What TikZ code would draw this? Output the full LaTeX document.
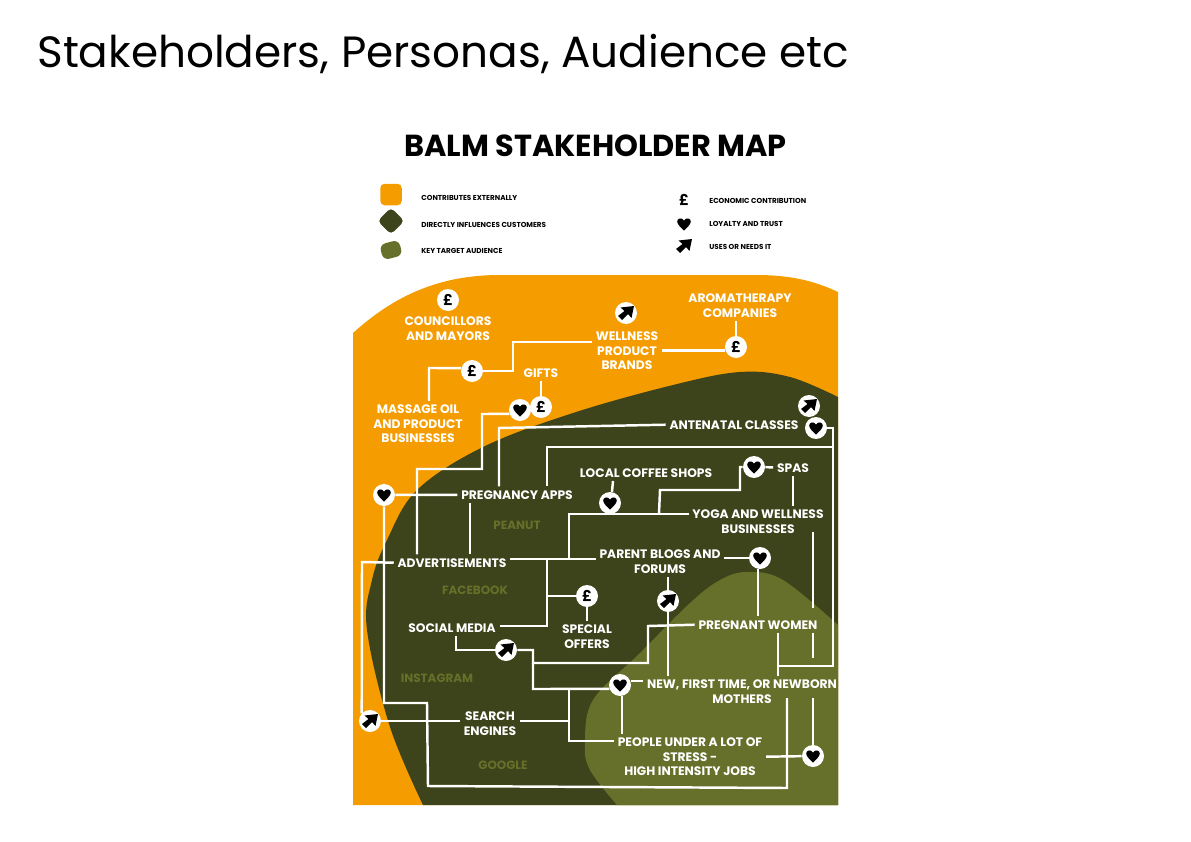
\documentclass[tikz,border=0pt]{standalone}
\usepackage{fontspec}
\setmainfont{Poppins}
\usetikzlibrary{shapes.geometric}
\definecolor{balmorange}{HTML}{F59D00}
\definecolor{balmdark}{HTML}{3D431B}
\definecolor{balmolive}{HTML}{66702A}
\tikzset{
    link/.style={white, line width=1.4pt, line join=miter},
    maplabel/.style={white, align=center, inner sep=2pt, yshift=-0.4pt, font=\fontsize{7}{8.3}\selectfont\bfseries},
    tagtext/.style={balmolive, inner sep=0pt, font=\fontsize{6.8}{8.3}\selectfont\bfseries},
    keytext/.style={black, anchor=west, inner sep=0pt, yshift=-0.4pt, font=\fontsize{4.1}{5}\selectfont\bfseries},
    iconbox/.style={circle, fill=white, minimum size=0.44cm, inner sep=0pt, font=\fontsize{8.5}{8.5}\selectfont\bfseries},
    heartmark/.pic={\fill[black] (0,6.5) .. controls (-3,3.5) and (-6.8,0.5) .. (-6.8,-2.5) .. controls (-6.8,-6) and (-2,-6.8) .. (0,-3.5) .. controls (2,-6.8) and (6.8,-6) .. (6.8,-2.5) .. controls (6.8,0.5) and (3,3.5) .. (0,6.5) -- cycle;},
    arrowmark/.pic={\fill[black] (8,-7) -- (-5.5,-5.5) -- (-1.5,-2) -- (-8,3) -- (-4,7) -- (2,1) -- (5.5,5) -- cycle;}
}
\begin{document}
\begin{tikzpicture}[x=0.02cm, y=-0.02cm]
    \useasboundingbox (0,0) rectangle (1191,842);
    % headings
    \node[anchor=west, inner sep=0pt, font=\fontsize{24.9}{30}\selectfont] (pagetitle) at (37,54) {Stakeholders, Personas, Audience etc};
    \node[inner sep=0pt, font=\fontsize{17.3}{20}\selectfont\bfseries] (maptitle) at (595.5,146) {BALM STAKEHOLDER MAP};
    % legend
    \node[fill=balmorange, rounded corners=2.5pt, minimum size=0.43cm, inner sep=0pt] (keyorange) at (391,194.5) {};
    \node[fill=balmdark, rounded corners=2.5pt, rotate=45, minimum size=0.38cm, inner sep=0pt] (keydark) at (391,221) {};
    \node[fill=balmolive, rounded corners=3.5pt, rotate=15, minimum width=0.40cm, minimum height=0.32cm, inner sep=0pt] (keyolive) at (391,250) {};
    \node[keytext] (keyone) at (421,197) {CONTRIBUTES EXTERNALLY};
    \node[keytext] (keytwo) at (421,224) {DIRECTLY INFLUENCES CUSTOMERS};
    \node[keytext] (keythree) at (421,250) {KEY TARGET AUDIENCE};
    \node[keytext] (keyfour) at (709,200) {ECONOMIC CONTRIBUTION};
    \node[keytext] (keyfive) at (709,223) {LOYALTY AND TRUST};
    \node[keytext] (keysix) at (709,246) {USES OR NEEDS IT};
    \node[inner sep=0pt, font=\fontsize{8.5}{8.5}\selectfont\bfseries] (keypound) at (684,200) {£};
    \coordinate (keyheart) at (684,224);
    \coordinate (keyarrow) at (684,246);
    \pic at (keyheart) {heartmark};
    \pic at (keyarrow) {arrowmark};
    % regions
    \fill[balmorange] (353,333) .. controls (395,295) and (440,275) .. (500,275) -- (757,275) .. controls (790,275) and (815,281) .. (838,292) -- (838,805) -- (353,805) -- cycle;
    \fill[balmdark] plot[smooth, tension=0.6] coordinates {(423,805) (390,727) (367,630) (372,580) (387,540) (417,490) (483,447) (573,413) (673,385) (740,372) (790,377) (838,397)} -- (838,805) -- cycle;
    \fill[balmolive] plot[smooth, tension=0.6] coordinates {(617,805) (590,770) (585,743) (593,700) (640,653) (690,603) (720,580) (747,572) (783,580) (838,625)} -- (838,805) -- cycle;
    \node[tagtext] (peanut) at (517,525) {PEANUT};
    \node[tagtext] (facebook) at (475,590) {FACEBOOK};
    \node[tagtext] (instagram) at (437,678) {INSTAGRAM};
    \node[tagtext] (google) at (503,765) {GOOGLE};
    % stakeholders
    \node[maplabel] (councillors) at (448,328) {COUNCILLORS\\AND MAYORS};
    \node[maplabel] (wellness) at (627,350) {WELLNESS\\PRODUCT\\BRANDS};
    \node[maplabel] (aroma) at (740,305) {AROMATHERAPY\\COMPANIES};
    \node[maplabel] (massage) at (418,423) {MASSAGE OIL\\AND PRODUCT\\BUSINESSES};
    \node[maplabel] (gifts) at (541,372) {GIFTS};
    \node[maplabel] (antenatal) at (734,424) {ANTENATAL CLASSES};
    \node[maplabel] (apps) at (517,494) {PREGNANCY APPS};
    \node[maplabel] (coffee) at (646,472) {LOCAL COFFEE SHOPS};
    \node[maplabel] (spas) at (793,467) {SPAS};
    \node[maplabel] (yoga) at (758,521) {YOGA AND WELLNESS\\BUSINESSES};
    \node[maplabel] (ads) at (452,562) {ADVERTISEMENTS};
    \node[maplabel] (blogs) at (660,561) {PARENT BLOGS AND\\FORUMS};
    \node[maplabel] (offers) at (587,636) {SPECIAL\\OFFERS};
    \node[maplabel] (social) at (452,627) {SOCIAL MEDIA};
    \node[maplabel] (pregnant) at (758,624) {PREGNANT WOMEN};
    \node[maplabel] (mothers) at (742,691) {NEW, FIRST TIME, OR NEWBORN\\MOTHERS};
    \node[maplabel] (search) at (490,723) {SEARCH\\ENGINES};
    \node[maplabel] (stress) at (690,756) {PEOPLE UNDER A LOT OF\\STRESS -\\HIGH INTENSITY JOBS};
    % icons
    \node[iconbox] (pCouncil) at (448,300) {£};
    \node[iconbox] (pMassage) at (472,371) {£};
    \node[iconbox] (pAroma) at (736,347) {£};
    \node[iconbox] (pGifts) at (541,407) {£};
    \node[iconbox] (pOffers) at (587,596) {£};
    \node[iconbox] (hAds) at (520,410) {};
    \node[iconbox] (hAntenatal) at (816,428) {};
    \node[iconbox] (hApps) at (384,495) {};
    \node[iconbox] (hCoffee) at (610,503) {};
    \node[iconbox] (hSpas) at (754,467) {};
    \node[iconbox] (hBlogs) at (760,558) {};
    \node[iconbox] (hMothers) at (620,685) {};
    \node[iconbox] (hStress) at (813,756) {};
    \node[iconbox] (aWellness) at (626,313) {};
    \node[iconbox] (aAntenatal) at (809,406) {};
    \node[iconbox] (aBlogs) at (668,601) {};
    \node[iconbox] (aSocial) at (506,650) {};
    \node[iconbox] (aSearch) at (370,721) {};
    \foreach \n in {hAds,hAntenatal,hApps,hCoffee,hSpas,hBlogs,hMothers,hStress}
        \pic at (\n) {heartmark};
    \foreach \n in {aWellness,aAntenatal,aBlogs,aSocial,aSearch}
        \pic at (\n) {arrowmark};
    % free ends
    \coordinate (motherJoin) at (778,666);
    \coordinate (mothersFoot) at (787,698);
    \coordinate (mothersHand) at (813,698);
    \coordinate (yogaFoot) at (813,532);
    \coordinate (pregnantTop) at (813,608);
    \coordinate (pregnantFoot) at (813,658);
    \coordinate (blogsJoin) at (569,559);
    \coordinate (offersJoin) at (547,559);
    % connectors
    \draw[link] (massage.north -| 429,0) -- (429,368) -- (pMassage.165);
    \draw[link] (pMassage.east) -- (513,371) -- (513,342) -- (wellness.west |- 0,342);
    \draw[link] (wellness.east) -- (wellness.east -| pAroma.west);
    \draw[link] (pAroma) -- (pAroma |- aroma.south);
    \draw[link] (gifts) -- (pGifts);
    \draw[link] (hAds.200) -- (482,414) -- (482,469) -- (417,469) -- (ads.north -| 417,0);
    \draw[link] (antenatal.west) -- (499,428) -- (apps.north -| 499,0);
    \draw[link] (hAntenatal) -- (833,428) -- (833,666) -- (motherJoin);
    \draw[link] (pregnant.south -| 778,0) -- (mothers.north -| 778,0);
    \draw[link] (apps.north -| 547,0) -- (547,447) -- (833,447);
    \draw[link] (hApps) -- (apps);
    \draw[link] (hApps.south) -- (384,703) -- (427,703) -- (428,786) -- (787,788) -- (mothersFoot);
    \draw[link] (apps.south -| 470,0) -- (ads.north -| 470,0);
    \draw[link] (ads.west) -- (362,562) -- (aSearch.137);
    \draw[link] (aSearch) -- (search.west |- aSearch);
    \draw[link] (ads.east |- 0,559) -- (blogs.west |- 0,559);
    \draw[link] (blogsJoin) -- (569,514) -- (yoga.west |- 0,514);
    \draw[link] (coffee.south -| 613,0) -- (hCoffee.80);
    \draw[link] (659,514) -- (660,490) -- (740,490) -- (740,467) -- (hSpas);
    \draw[link] (hSpas) -- (spas);
    \draw[link] (spas) -- (spas |- yoga.north);
    \draw[link] (yogaFoot) -- (pregnantTop);
    \draw[link] (pregnant.south -| pregnantFoot) -- (pregnantFoot);
    \draw[link] (blogs.east |- 0,558) -- (hBlogs);
    \draw[link] (hBlogs.south -| pregnant) -- (pregnant.north);
    \draw[link] (offersJoin) -- (547,626) -- (social.east |- 0,626);
    \draw[link] (547,596) -- (pOffers);
    \draw[link] (pOffers) -- (offers.north -| pOffers);
    \draw[link] (blogs.south -| aBlogs) -- (aBlogs);
    \draw[link] (aBlogs) -- (mothers.north -| aBlogs);
    \draw[link] (pregnant.west) -- (648,626) -- (648,663) -- (533,663) -- (533,650) -- (aSocial);
    \draw[link] (social.south -| 456,0) -- (456,650) -- (aSocial);
    \draw[link] (533,663) -- (533,689) -- (hMothers.200);
    \draw[link] (569,689) -- (569,741) -- (stress.west |- 0,741);
    \draw[link] (search.east |- 0,721) -- (569,721);
    \draw[link] (hMothers.20) -- (mothers.west |- hMothers.20);
    \draw[link] (hMothers.south -| 622,0) -- (stress.north -| 622,0);
    \draw[link] (stress.east) -- (hStress);
    \draw[link] (mothersHand) -- (hStress);
\end{tikzpicture}
\end{document}
